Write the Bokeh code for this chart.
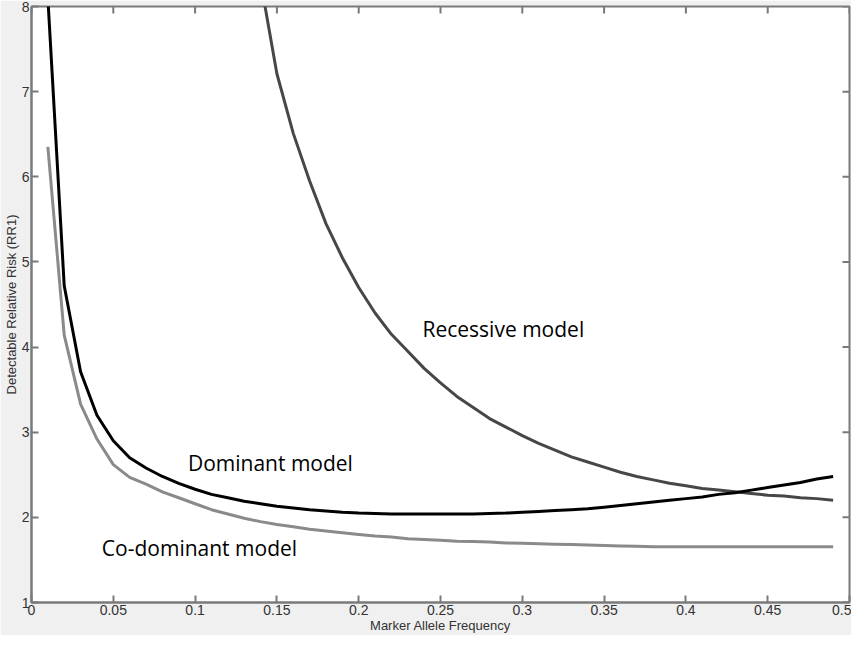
import math
from bokeh.plotting import figure
from bokeh.models import FixedTicker, CustomJSTickFormatter, Range1d, ColumnDataSource
from bokeh.embed import file_html
from bokeh.resources import INLINE
from bokeh.core.properties import value

# ---- data ----
freq_dom = [0.01, 0.02, 0.03, 0.04, 0.05, 0.06, 0.07, 0.08, 0.09, 0.10,
            0.11, 0.12, 0.13, 0.14, 0.15, 0.16, 0.17, 0.18, 0.19, 0.20,
            0.21, 0.22, 0.23, 0.24, 0.25, 0.26, 0.27, 0.28, 0.29, 0.30,
            0.31, 0.32, 0.33, 0.34, 0.35, 0.36, 0.37, 0.38, 0.39, 0.40,
            0.41, 0.42, 0.43, 0.44, 0.45, 0.46, 0.47, 0.48, 0.49]
dominant = [8.1, 4.72, 3.71, 3.20, 2.90, 2.70, 2.58, 2.48, 2.40, 2.33,
            2.27, 2.23, 2.19, 2.16, 2.13, 2.11, 2.09, 2.075, 2.06, 2.05,
            2.045, 2.04, 2.04, 2.04, 2.04, 2.04, 2.04, 2.045, 2.05, 2.06,
            2.07, 2.08, 2.09, 2.10, 2.12, 2.14, 2.16, 2.18, 2.20, 2.22,
            2.24, 2.27, 2.29, 2.32, 2.35, 2.38, 2.41, 2.45, 2.48]
codominant = [6.35, 4.14, 3.33, 2.92, 2.62, 2.47, 2.39, 2.30, 2.23, 2.16,
              2.09, 2.04, 1.99, 1.95, 1.915, 1.89, 1.86, 1.84, 1.82, 1.80,
              1.78, 1.77, 1.75, 1.74, 1.73, 1.72, 1.715, 1.71, 1.70, 1.695,
              1.69, 1.685, 1.68, 1.675, 1.67, 1.665, 1.66, 1.655, 1.655, 1.655,
              1.655, 1.655, 1.655, 1.655, 1.655, 1.655, 1.655, 1.655, 1.655]
freq_rec = [0.14, 0.15, 0.16, 0.17, 0.18, 0.19, 0.20, 0.21, 0.22, 0.23,
            0.24, 0.25, 0.26, 0.27, 0.28, 0.29, 0.30, 0.31, 0.32, 0.33,
            0.34, 0.35, 0.36, 0.37, 0.38, 0.39, 0.40, 0.41, 0.42, 0.43,
            0.44, 0.45, 0.46, 0.47, 0.48, 0.49]
recessive = [8.3, 7.21, 6.51, 5.95, 5.45, 5.05, 4.70, 4.40, 4.15, 3.95,
             3.75, 3.58, 3.42, 3.29, 3.16, 3.06, 2.96, 2.87, 2.79, 2.71,
             2.65, 2.59, 2.53, 2.48, 2.44, 2.40, 2.37, 2.34, 2.32, 2.30,
             2.28, 2.26, 2.25, 2.23, 2.22, 2.20]

label_texts = ["Recessive model", "Dominant model", "Co-dominant model"]
label_x = [0.239, 0.0956, 0.043]
label_y = [4.21, 2.64, 1.64]

x_ticks = [0, 0.05, 0.1, 0.15, 0.2, 0.25, 0.3, 0.35, 0.4, 0.45, 0.5]
y_ticks = [1, 2, 3, 4, 5, 6, 7, 8]
x_min, x_max = 0, 0.5
y_min, y_max = 1, 8

AX = "#7a7a7a"
TXT = "#333333"

p = figure(width=851, height=635, output_backend="svg", toolbar_location=None,
           x_range=Range1d(x_min, x_max), y_range=Range1d(y_min, y_max),
           min_border_left=27, min_border_right=2, min_border_top=6, min_border_bottom=30,
           background_fill_color="white", border_fill_color="#f0f0f0")
p.xgrid.visible = False
p.ygrid.visible = False
p.outline_line_color = AX
p.outline_line_width = 2

fmt = CustomJSTickFormatter(code="return String(Math.round(tick*100)/100);")

for ax, ticks in ((p.xaxis[0], x_ticks), (p.yaxis[0], y_ticks)):
    ax.ticker = FixedTicker(ticks=ticks)
    ax.formatter = fmt
    ax.axis_line_color = AX
    ax.axis_line_width = 2
    ax.major_tick_line_color = AX
    ax.major_tick_line_width = 2
    ax.major_tick_in = 7
    ax.major_tick_out = 0
    ax.minor_tick_line_color = None
    ax.major_label_text_font = "Liberation Sans"
    ax.major_label_text_font_size = "14px"
    ax.major_label_text_color = TXT
    ax.major_label_standoff = 2
    ax.axis_label_text_font = "Liberation Sans"
    ax.axis_label_text_font_size = "13px"
    ax.axis_label_text_font_style = "normal"
    ax.axis_label_text_color = TXT
    ax.axis_label_standoff = 0

p.xaxis[0].axis_label = "Marker Allele Frequency"
p.yaxis[0].axis_label = "Detectable Relative Risk (RR1)"

# inward ticks on the top and right edges of the box (half of each dash is clipped by the frame)
p.scatter(x=x_ticks, y=[y_max] * len(x_ticks), marker="dash", size=14, angle=math.pi / 2,
          line_color=AX, line_width=2)
p.scatter(x=[x_max] * len(y_ticks), y=y_ticks, marker="dash", size=14,
          line_color=AX, line_width=2)

p.line(freq_rec, recessive, line_color="#474747", line_width=3)
p.line(freq_dom, codominant, line_color="#8a8a8a", line_width=3)
p.line(freq_dom, dominant, line_color="black", line_width=3)

src = ColumnDataSource(dict(x=label_x, y=label_y, t=label_texts))
p.text(x="x", y="y", text="t", source=src, text_font=value("Open Sans"),
       text_font_size="21px", text_color="black", text_baseline="middle", text_align="left")

open("out.html", "w").write(file_html(p, INLINE))
